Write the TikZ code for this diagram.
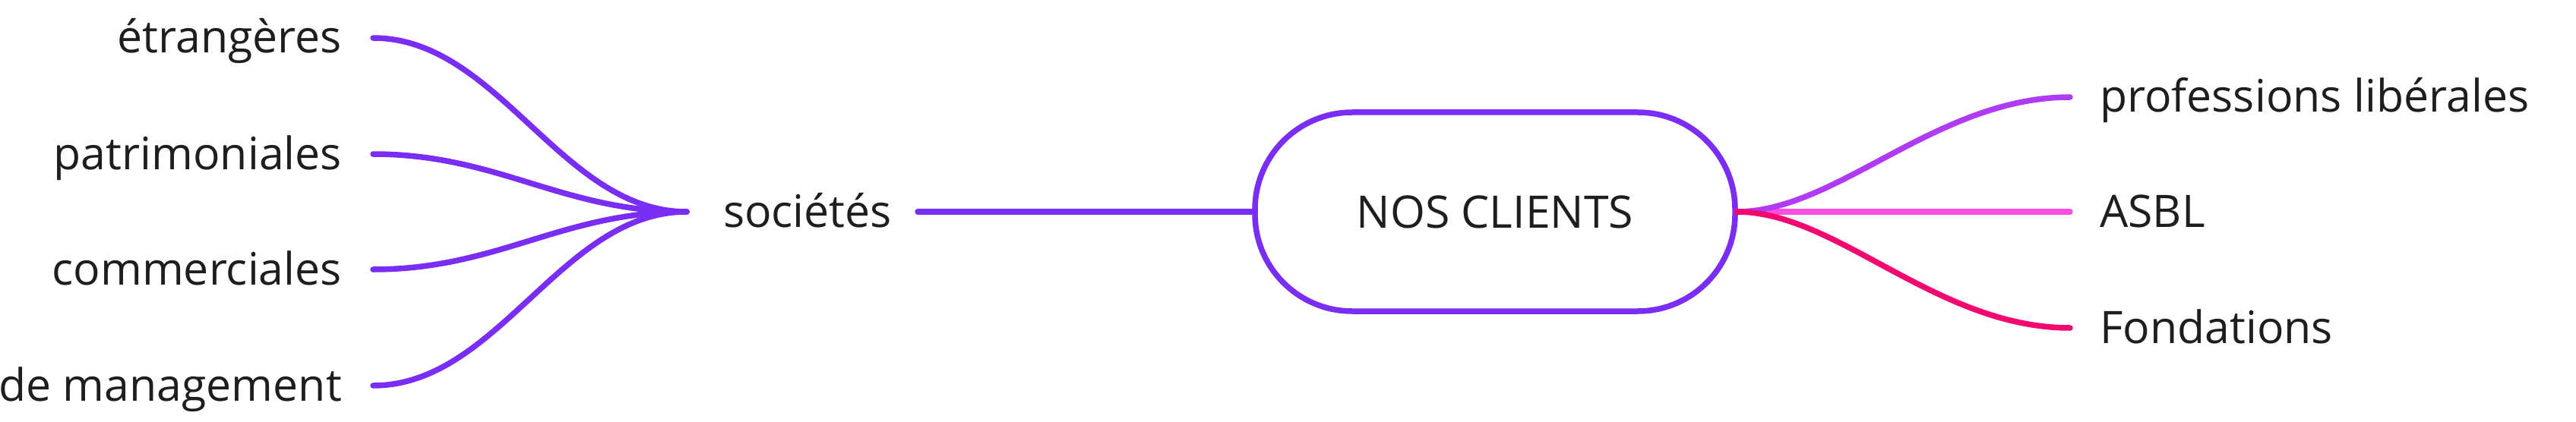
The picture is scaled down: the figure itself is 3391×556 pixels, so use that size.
\documentclass[tikz,border=0pt]{standalone}
\usepackage{fontspec}
\setmainfont{Open Sans}
\definecolor{cpurple}{HTML}{7A2EF5}
\definecolor{cviolet}{HTML}{B03BF5}
\definecolor{cpink}{HTML}{FF4FE3}
\definecolor{ccrimson}{HTML}{F2086E}
\definecolor{ctext}{HTML}{1E1E1E}
\begin{document}
\begin{tikzpicture}[x=1pt,y=-1pt,
  lbl/.style={inner sep=0pt,outer sep=0pt,text=ctext,font=\fontsize{59}{70}\selectfont},
  conn/.style={line width=7.5pt,line cap=round},
  centerbox/.style={draw=cpurple,line width=7.5pt,fill=white,rounded corners=128pt,
    minimum width=632pt,minimum height=262pt,inner sep=0pt,text=ctext,font=\fontsize{59}{70}\selectfont}]
\useasboundingbox (0,0) rectangle (3391,556);
% central node
\node[centerbox] (root) at (1968,279) {};
\node[lbl,anchor=base] (roottxt) at (1968,300) {NOS CLIENTS};
% left branch
\node[lbl,anchor=base west] (soc) at (952,299) {sociétés};
\coordinate (socL) at (904,279);
\coordinate (socR) at (1208,279);
\node[lbl,anchor=base east] (l1) at (450,70) {étrangères};
\node[lbl,anchor=base east] (l2) at (450,223) {patrimoniales};
\node[lbl,anchor=base east] (l3) at (450,375) {commerciales};
\node[lbl,anchor=base east] (l4) at (450,528) {de management};
\coordinate (l1c) at (491,50);
\coordinate (l2c) at (491,203);
\coordinate (l3c) at (491,355);
\coordinate (l4c) at (491,508);
% right branch
\node[lbl,anchor=base west] (r1) at (2764,148) {professions libérales};
\node[lbl,anchor=base west] (r2) at (2764,299) {ASBL};
\node[lbl,anchor=base west] (r3) at (2764,452) {Fondations};
\coordinate (r1c) at (2725,128);
\coordinate (r2c) at (2725,279);
\coordinate (r3c) at (2725,432);
\coordinate (rootR) at (2286,279);
% connectors
\draw[conn,cpurple] (socR) -- (root.west);
\foreach \c/\yy in {l1c/50,l2c/203,l3c/355,l4c/508}{
  \draw[conn,cpurple] (socL) .. controls (739,279) and (656,\yy) .. (\c);
}
\draw[conn,cpink] (rootR) -- (r2c);
\draw[conn,cviolet] (rootR) .. controls (2418,279) and (2549,128) .. (r1c);
\draw[conn,ccrimson] (rootR) .. controls (2418,279) and (2549,432) .. (r3c);
\end{tikzpicture}
\end{document}
